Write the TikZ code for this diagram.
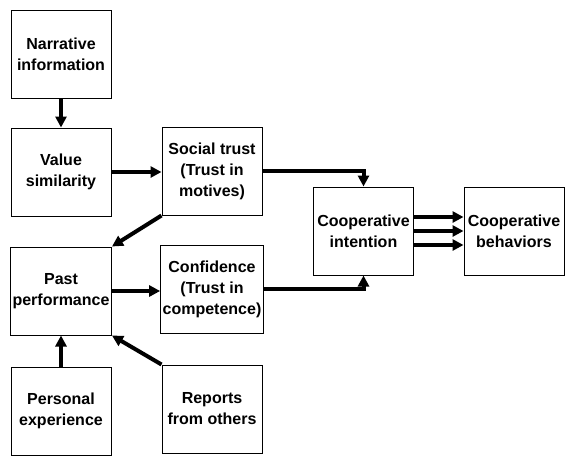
\documentclass[tikz,border=0pt]{standalone}
\usepackage{fontspec}
\setmainfont{Liberation Sans}
\usetikzlibrary{arrows.meta}

\tikzset{
  caixa/.style={draw, line width=1pt, minimum width=100pt, minimum height=88pt,
    align=center, inner sep=2pt, font=\fontsize{16}{21}\selectfont\bfseries},
  seta/.style={line width=4pt, -{Triangle[length=11pt,width=11pt]}}
}

\begin{document}
\begin{tikzpicture}[x=1pt,y=-1pt]

\useasboundingbox (0,0) rectangle (575,466);

% Coluna da esquerda
\node[caixa] (narrative) at (61,54) {Narrative\\information};
\node[caixa] (value) at (61,172) {Value\\similarity};
\node[caixa] (past) at (61,291) {Past\\performance};
\node[caixa] (personal) at (61,411) {Personal\\experience};

% Coluna do meio
\node[caixa] (social) at (212,171) {Social trust\\(Trust in\\motives)};
\node[caixa] (confidence) at (212,289) {Confidence\\(Trust in\\competence)};
\node[caixa] (reports) at (212,409) {Reports\\from others};

% Coluna da direita
\node[caixa] (intention) at (363.5,231) {Cooperative\\intention};
\node[caixa] (behaviors) at (514,231) {Cooperative\\behaviors};

% Setas
\draw[seta] (narrative) -- (value);
\draw[seta] (value) -- (social.west |- value);
\draw[seta] (social.south west) -- (past.north east);
\draw[seta] (past) -- (confidence.west |- past);
\draw[seta] (personal) -- (past);
\draw[seta] (reports.north west) -- (past.south east);
\draw[seta] (social.east) -| (intention.north);
\draw[seta] (confidence.east) -| (intention.south);

% Tres setas paralelas
\draw[seta] ([yshift=14pt]intention.east) -- ([yshift=14pt]behaviors.west);
\draw[seta] (intention.east) -- (behaviors.west);
\draw[seta] ([yshift=-14pt]intention.east) -- ([yshift=-14pt]behaviors.west);

\end{tikzpicture}
\end{document}
